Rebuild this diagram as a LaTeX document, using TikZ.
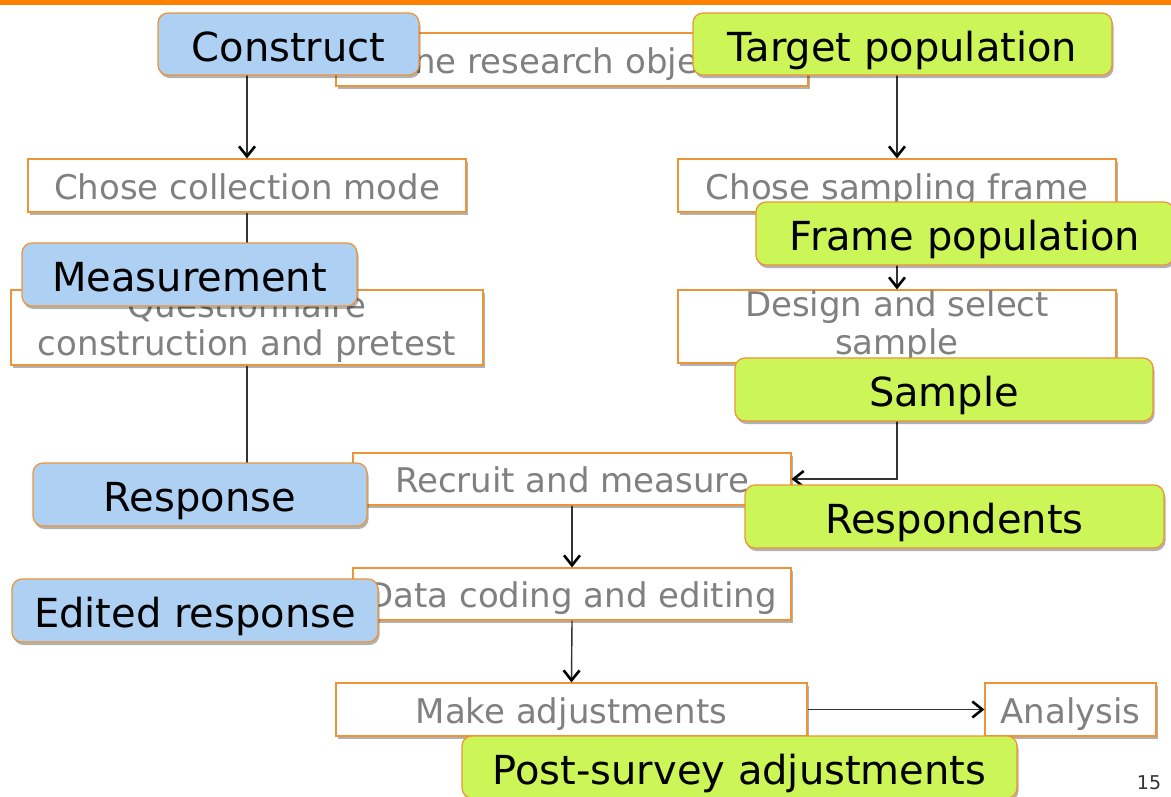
\documentclass[tikz,border=0pt]{standalone}
\usepackage{fontspec}
\setmainfont{DejaVu Sans}
\usetikzlibrary{arrows.meta,shadows}
\definecolor{barorange}{HTML}{FF7F00}
\definecolor{edgeorange}{HTML}{EE9438}
\definecolor{stepgray}{HTML}{808080}
\definecolor{conceptblue}{HTML}{AED1F3}
\definecolor{conceptgreen}{HTML}{CCF557}
\tikzset{
  boxshadow/.style={drop shadow={shadow xshift=1.5pt, shadow yshift=-3pt, opacity=0.3, fill=black}},
  stepbox/.style={draw=edgeorange, line width=1.2pt, fill=white, inner sep=0pt,
    text=stepgray, font=\fontsize{34}{38}\selectfont, align=center, boxshadow},
  stepline/.style={stepbox, text height=30pt, text depth=3pt},
  concept/.style={draw=edgeorange, line width=1.2pt, rounded corners=10pt, inner sep=0pt,
    text=black, font=\fontsize{40}{48}\selectfont, text height=36pt, text depth=2pt, boxshadow},
  bluebox/.style={concept, fill=conceptblue},
  greenbox/.style={concept, fill=conceptgreen},
  flow/.style={line width=1.4pt, draw=black!80, -{Straight Barb[length=10pt,width=16pt,line width=2.6pt,color=black]}},
}
\begin{document}
\begin{tikzpicture}[x=1pt, y=-1pt]
\useasboundingbox (0,0) rectangle (1171,796);
\clip (0,0) rectangle (1171,796);
\fill[white] (0,0) rectangle (1171,796);
\fill[barorange] (0,0) rectangle (1171,5);

% survey process steps
\node[stepline, minimum width=472pt, minimum height=53pt] (define)   at (572,59.5)   {Define research objectives};
\node[stepline, minimum width=438pt, minimum height=53pt] (collmode) at (247,185.5)  {Chose collection mode};
\node[stepline, minimum width=438pt, minimum height=53pt] (sampframe) at (897,185.5) {Chose sampling frame};
\node[stepbox,  minimum width=472pt, minimum height=75pt] (quest)    at (247,327.5)  {Questionnaire\\construction and pretest};
\node[stepbox,  minimum width=438pt, minimum height=73pt] (design)   at (897,326.5)  {Design and select\\sample};
\node[stepline, minimum width=438pt, minimum height=52pt] (recruit)  at (572,479)    {Recruit and measure};
\node[stepline, minimum width=438pt, minimum height=52pt] (coding)   at (572,594)    {Data coding and editing};
\node[stepline, minimum width=471pt, minimum height=53pt] (adjust)   at (571.5,709.5) {Make adjustments};
\node[stepline, minimum width=171pt, minimum height=53pt] (analysis) at (1070.5,709.5) {Analysis};

% connectors between the steps
\draw[flow] (define.west) -| (collmode.north);
\draw[flow] (define.east) -| (sampframe.north);
\draw[flow] (collmode.south) -- (quest.north);
\draw[flow] (sampframe.south) -- (design.north);
\draw[flow] (quest.south) |- (recruit.west);
\draw[flow] (design.south) |- (recruit.east);
\draw[flow] (recruit.south) -- (coding.north);
\draw[flow] (coding.south) -- (adjust.north);
\draw[flow] (adjust.east) -- (analysis.west);

% measurement side
\node[bluebox, minimum width=261pt, minimum height=62pt] (construct)   at (288.5,44)   {Construct};
\node[bluebox, minimum width=335pt, minimum height=63pt] (measurement) at (189.5,274.5) {Measurement};
\node[bluebox, minimum width=334pt, minimum height=63pt] (response)    at (200,494.5)   {Response};
\node[bluebox, minimum width=366pt, minimum height=63pt] (edited)      at (195,610.5)   {Edited response};

% representation side
\node[greenbox, minimum width=419pt, minimum height=62pt] (target)      at (902.5,44)    {Target population};
\node[greenbox, minimum width=418pt, minimum height=63pt] (frame)       at (965,233.5)   {Frame population};
\node[greenbox, minimum width=418pt, minimum height=63pt] (sample)      at (944,389.5)   {Sample};
\node[greenbox, minimum width=419pt, minimum height=63pt] (respondents) at (954.5,516.5) {Respondents};
\node[greenbox, minimum width=555pt, minimum height=62pt] (post)        at (739.5,767)   {Post-survey adjustments};

\node[font=\fontsize{19}{22}\selectfont, text=black!80] (pagenum) at (1149,783) {15};
\end{tikzpicture}
\end{document}
